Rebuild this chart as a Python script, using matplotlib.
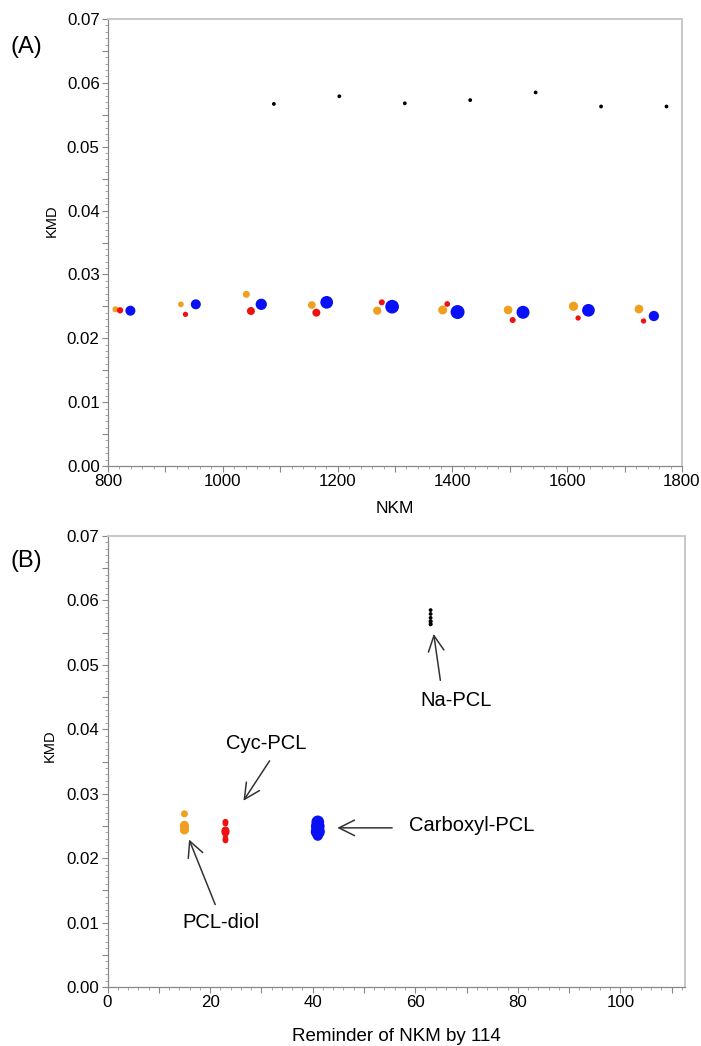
import matplotlib
matplotlib.use('Agg')
import matplotlib.pyplot as plt
import numpy as np
from matplotlib.ticker import MultipleLocator, FuncFormatter

plt.rcParams['font.family'] = ['Liberation Sans', 'DejaVu Sans']

# nominal Kendrick mass (NKM) and Kendrick mass defect (KMD) per series
nkm_diol = [813, 927, 1041, 1155, 1269, 1383, 1497, 1611, 1725]
kmd_diol = [0.02454, 0.02532, 0.02688, 0.02521, 0.02432, 0.02443, 0.02443, 0.02501, 0.02458]
nkm_cyc = [821, 935, 1049, 1163, 1277, 1391, 1505, 1619, 1733]
kmd_cyc = [0.02438, 0.02375, 0.02427, 0.02401, 0.02563, 0.02537, 0.02286, 0.02318, 0.02271]
nkm_carb = [839, 953, 1067, 1181, 1295, 1409, 1523, 1637, 1751]
kmd_carb = [0.02432, 0.02532, 0.02532, 0.02563, 0.02495, 0.02411, 0.02407, 0.02438, 0.02349]
nkm_na = [1089, 1203, 1317, 1431, 1545, 1659, 1773]
kmd_na = [0.0567, 0.0579, 0.0568, 0.0573, 0.0585, 0.0563, 0.0563]

# marker diameters (px) as seen in the figure
d_diol = [6, 5.7, 7, 7.7, 8.3, 9, 8.7, 9.3, 8.7]
d_cyc = [6.3, 5.3, 8, 8, 6, 5.7, 6, 5.3, 5.3]
d_carb = [10, 10, 11.3, 12.7, 13.7, 14, 13, 12.7, 10.3]
d_na = [3.8] * 7

series = [
    (nkm_diol, kmd_diol, d_diol, '#f0a020'),
    (nkm_cyc, kmd_cyc, d_cyc, '#f01010'),
    (nkm_carb, kmd_carb, d_carb, '#0a10f5'),
    (nkm_na, kmd_na, d_na, '#000000'),
]


def size(d):
    return (np.array(d) * 0.72) ** 2


def setAxis(ax, xmaj, xlab_every, xmin):
    ax.set_ylim(0, 0.07)
    ax.yaxis.set_major_locator(MultipleLocator(0.005))
    ax.yaxis.set_minor_locator(MultipleLocator(0.001))
    ax.yaxis.set_major_formatter(FuncFormatter(
        lambda v, p: '%.2f' % v if abs(v / 0.01 - round(v / 0.01)) < 1e-6 else ''))
    ax.xaxis.set_major_locator(MultipleLocator(xmaj))
    ax.xaxis.set_minor_locator(MultipleLocator(xmin))
    ax.xaxis.set_major_formatter(FuncFormatter(
        lambda v, p: '%d' % v if abs(v / xlab_every - round(v / xlab_every)) < 1e-6 else ''))
    ax.tick_params(which='major', direction='out', length=4, width=0.8,
                   color='#888888', labelsize=12.2, pad=2)
    ax.tick_params(which='minor', direction='out', length=2, width=0.6, color='#999999')
    for s in ['left', 'bottom']:
        ax.spines[s].set_color('#888888')
        ax.spines[s].set_linewidth(0.9)
    for s in ['top', 'right']:
        ax.spines[s].set_color('#c8c8c8')
        ax.spines[s].set_linewidth(1.4)


fig = plt.figure(figsize=(7.01, 10.46), dpi=100)

# (A) KMD vs NKM
ax1 = fig.add_axes([108 / 701, 1 - 466 / 1046, 574 / 701, 447 / 1046])
for x, y, d, c in series:
    ax1.scatter(x, y, s=size(d), c=c, linewidths=0, zorder=3)
ax1.set_xlim(800, 1800)
setAxis(ax1, 100, 200, 20)
ax1.set_xlabel('NKM', fontsize=12.5)
ax1.xaxis.set_label_coords(0.5, -0.094)
ax1.xaxis.label.set_va('center')
ax1.set_ylabel('KMD', fontsize=10.5)
ax1.yaxis.set_label_coords(-0.098, 0.548)
ax1.yaxis.label.set_va('center')
fig.text(10 / 701, 1 - 47 / 1046, '(A)', fontsize=17, va='center', ha='left')

# (B) KMD vs remainder of NKM by 114
ax2 = fig.add_axes([107.5 / 701, 1 - 987 / 1046, 577 / 701, 451 / 1046])
for x, y, d, c in series:
    ax2.scatter(np.array(x) % 114, y, s=size(d), c=c, linewidths=0, zorder=3)
ax2.set_xlim(0, 112.5)
setAxis(ax2, 10, 20, 2)
ax2.set_xlabel('Reminder of NKM by 114', fontsize=13.5)
ax2.xaxis.set_label_coords(0.5, -0.11)
ax2.xaxis.label.set_va('center')
ax2.set_ylabel('KMD', fontsize=10.5)
ax2.yaxis.set_label_coords(-0.1, 0.534)
ax2.yaxis.label.set_va('center')
fig.text(10 / 701, 1 - 561 / 1046, '(B)', fontsize=17, va='center', ha='left')

arrow = dict(arrowstyle='->', color='#333333', lw=1.1, mutation_scale=28,
             shrinkA=0, shrinkB=0)
ax2.annotate('', xy=(63.6, 0.0548), xytext=(64.9, 0.0476), arrowprops=arrow)
ax2.text(67.9, 0.0445, 'Na-PCL', fontsize=14.5, ha='center', va='center')
ax2.annotate('', xy=(44.8, 0.0247), xytext=(55.5, 0.0247), arrowprops=arrow)
ax2.text(58.7, 0.0251, 'Carboxyl-PCL', fontsize=14.5, ha='left', va='center')
ax2.annotate('', xy=(26.5, 0.0289), xytext=(31.6, 0.0351), arrowprops=arrow)
ax2.text(31.0, 0.0378, 'Cyc-PCL', fontsize=14.5, ha='center', va='center')
ax2.annotate('', xy=(15.9, 0.0229), xytext=(21.0, 0.0128), arrowprops=arrow)
ax2.text(22.1, 0.0100, 'PCL-diol', fontsize=14.5, ha='center', va='center')

fig.savefig('out.png', dpi=100)
